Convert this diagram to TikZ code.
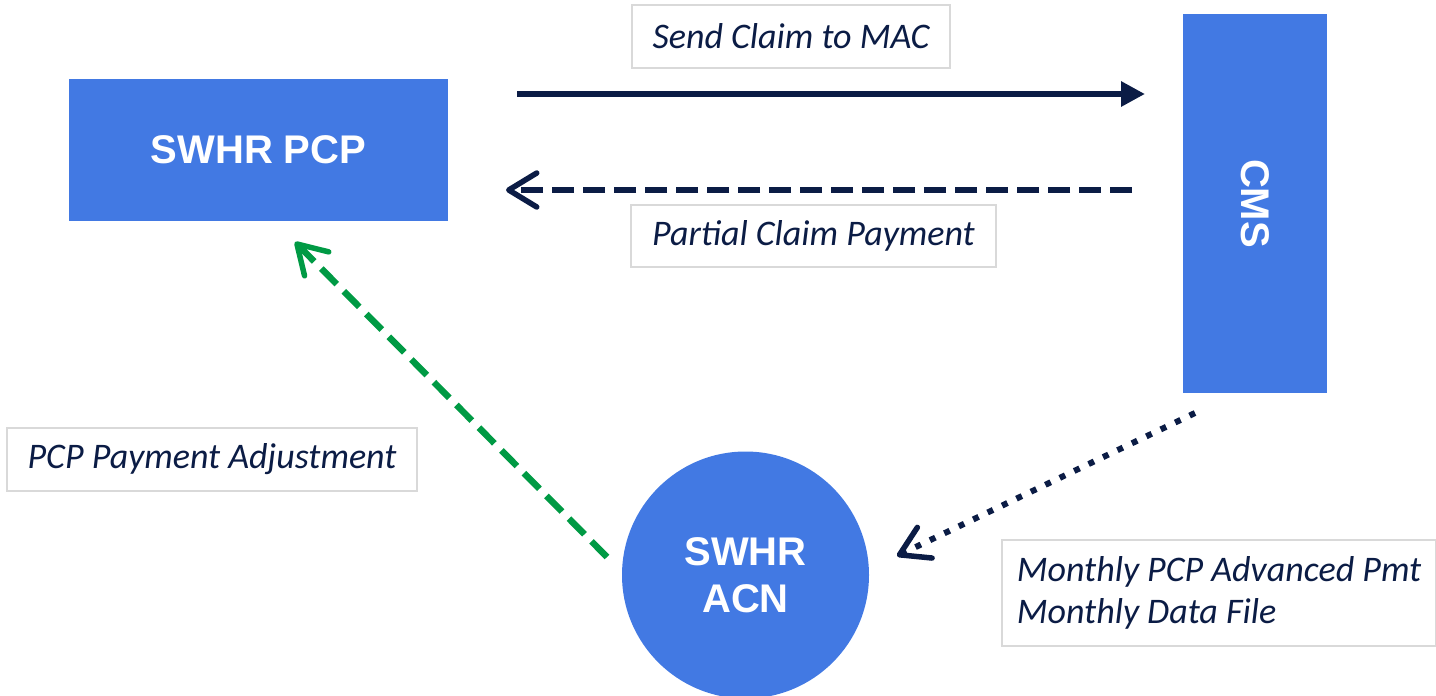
\documentclass[tikz,border=0pt]{standalone}
\usepackage{fontspec}
\setmainfont{Carlito}
\newfontfamily\arialfont{Liberation Sans}
\usetikzlibrary{arrows.meta}
\definecolor{boxblue}{HTML}{4279E3}
\definecolor{navy}{HTML}{0B1C45}
\definecolor{adjgreen}{HTML}{009A44}
\definecolor{taggray}{HTML}{D9D9D9}
\tikzset{
  unit/.style={fill=boxblue, text=white, inner sep=0pt, align=center,
    font=\arialfont\bfseries\fontsize{40}{47}\selectfont},
  tag/.style={draw=taggray, line width=2pt, fill=white, text=navy, align=left,
    font=\itshape\fontsize{36}{42}\selectfont},
  barb/.style={-{Straight Barb[length=28pt, width=34pt, line width=5.5pt, round]}}
}
\begin{document}
\begin{tikzpicture}[x=1pt,y=-1pt]
\useasboundingbox (0,0) rectangle (1436,696);
\node [unit, minimum width=379pt, minimum height=142pt] (pcp) at (258.5,150) {SWHR PCP};
\node [unit, rotate=-90, minimum width=379pt, minimum height=144pt] (cms) at (1255,203.5) {CMS};
\node [unit, circle, minimum size=247pt] (acn) at (745.5,575) {SWHR\\ACN};
\node [tag, minimum width=318pt, minimum height=63pt] (send) at (791,36.5) {Send Claim to MAC};
\node [tag, minimum width=365pt, minimum height=62pt] (partial) at (813.5,236) {Partial Claim Payment};
\node [tag, minimum width=410pt, minimum height=63pt] (adjust) at (212,459.5) {PCP Payment Adjustment};
\node [tag, minimum width=434pt, minimum height=106pt] (monthly) at (1219,593) {Monthly PCP Advanced Pmt\\Monthly Data File};
% arrow ends
\coordinate (sendA) at (517,94);
\coordinate (sendB) at (1145,94);
\coordinate (partA) at (1132,190);
\coordinate (partB) at (506,190);
\coordinate (adjA) at (607,557);
\coordinate (adjB) at (295,242);
\coordinate (monA) at (1195,413);
\coordinate (monB) at (897,556);
\draw [navy, line width=6pt, -{Triangle[length=24pt, width=24pt]}] (sendA) -- (sendB);
\draw [navy, line width=6pt, dash pattern=on 22pt off 9pt, barb] (partA) -- (partB);
\draw [adjgreen, line width=6.5pt, dash pattern=on 22pt off 10pt, barb] (adjA) -- (adjB);
\draw [navy, line width=6pt, dash pattern=on 6pt off 10pt, barb] (monA) -- (monB);
\end{tikzpicture}
\end{document}
